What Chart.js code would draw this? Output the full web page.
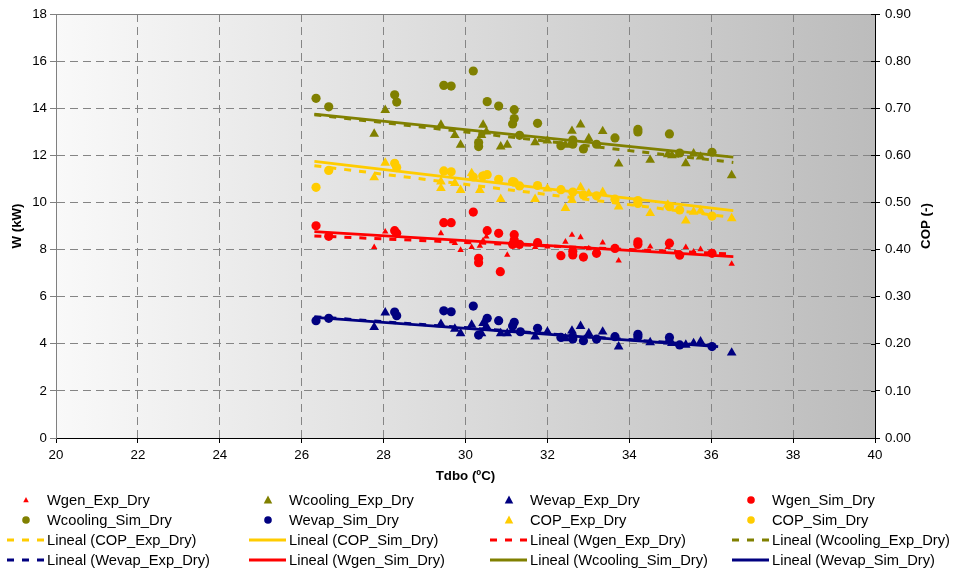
<!DOCTYPE html>
<html><head><meta charset="utf-8">
<script src="https://cdn.jsdelivr.net/npm/chart.js@4/dist/chart.umd.min.js"></script>
<style>
html,body{margin:0;padding:0;background:#fff;}
#wrap{position:relative;width:954px;height:572px;font-family:"Liberation Sans",Arial,sans-serif;overflow:hidden;}
#c{position:absolute;left:0;top:0;}
#legend{position:absolute;left:0;top:0;width:954px;height:572px;pointer-events:none;}
.lt{position:absolute;font-size:14.7px;line-height:20px;color:#000;white-space:nowrap;}
</style></head><body>
<div id="wrap"><canvas id="c" width="954" height="572"></canvas><div id="legend"></div></div>
<script>
// ---- data ----
const wgenExp = [[27.77,8.10],[28.04,8.76],[29.40,8.69],[29.74,8.27],[29.88,7.98],[30.15,8.10],[30.35,8.15],[30.43,8.39],[30.51,8.55],[31.02,7.77],[31.70,8.10],[32.00,8.12],[32.44,8.33],[32.60,8.62],[32.81,8.52],[33.01,8.05],[33.35,8.29],[33.74,7.53],[34.51,8.12],[34.94,8.10],[35.38,8.10],[35.57,7.91],[35.74,8.01],[36.50,7.39]];
const wcoolExp = [[27.77,12.91],[28.04,13.92],[29.40,13.29],[29.74,12.85],[29.88,12.44],[30.39,12.86],[30.43,13.29],[30.51,13.00],[30.86,12.37],[31.02,12.44],[31.70,12.55],[32.00,12.62],[32.44,12.44],[32.60,13.03],[32.81,13.30],[33.01,12.72],[33.35,13.02],[33.74,11.64],[34.51,11.80],[34.94,12.04],[35.04,12.00],[35.38,11.66],[35.57,12.07],[35.74,11.94],[36.50,11.15]];
const wevapExp = [[27.77,4.70],[28.04,5.32],[29.40,4.84],[29.74,4.63],[29.88,4.44],[30.15,4.80],[30.39,4.44],[30.43,4.87],[30.51,4.75],[30.86,4.44],[31.02,4.44],[31.70,4.30],[32.00,4.51],[32.44,4.23],[32.60,4.55],[32.81,4.75],[33.01,4.44],[33.35,4.51],[33.74,3.88],[34.51,4.06],[34.94,4.09],[35.04,4.02],[35.38,3.95],[35.57,4.02],[35.74,4.09],[36.50,3.62]];
const copExp = [[27.77,0.553],[28.04,0.584],[29.40,0.544],[29.40,0.530],[29.74,0.541],[29.88,0.526],[30.15,0.562],[30.35,0.526],[30.43,0.556],[30.86,0.507],[31.70,0.507],[32.00,0.529],[32.44,0.488],[32.60,0.505],[32.81,0.532],[33.01,0.519],[33.35,0.522],[33.74,0.491],[34.51,0.477],[34.94,0.495],[35.38,0.461],[35.57,0.480],[35.74,0.482],[36.50,0.466]];
const wgenSim = [[26.35,9.01],[26.66,8.56],[28.27,8.80],[28.32,8.69],[29.47,9.14],[29.65,9.14],[30.19,9.59],[30.32,7.63],[30.32,7.44],[30.53,8.80],[30.81,8.69],[30.85,7.06],[31.19,8.63],[31.15,8.22],[31.19,8.41],[31.32,8.22],[31.76,8.29],[32.33,7.74],[32.62,7.93],[32.62,7.77],[32.88,7.68],[33.20,7.84],[33.65,8.05],[34.21,8.33],[34.21,8.22],[34.98,8.27],[35.23,7.76],[36.02,7.84]];
const wcoolSim = [[26.35,14.42],[26.66,14.06],[28.27,14.57],[28.32,14.26],[29.47,14.97],[29.65,14.94],[30.19,15.58],[30.32,12.54],[30.32,12.37],[30.53,14.28],[30.81,14.09],[31.19,13.94],[31.19,13.56],[31.15,13.33],[31.32,12.85],[31.76,13.36],[32.33,12.41],[32.62,12.65],[32.62,12.47],[32.88,12.27],[33.20,12.47],[33.65,12.74],[34.21,13.10],[34.21,12.99],[34.98,12.91],[35.23,12.10],[36.02,12.13]];
const wevapSim = [[26.35,4.98],[26.66,5.08],[28.27,5.35],[28.32,5.19],[29.47,5.40],[29.65,5.36],[30.19,5.60],[30.32,4.37],[30.53,5.08],[30.81,4.98],[31.15,4.75],[31.19,4.91],[31.34,4.51],[31.76,4.66],[32.33,4.27],[32.62,4.30],[32.62,4.20],[32.88,4.13],[33.20,4.20],[33.65,4.30],[34.21,4.40],[34.21,4.30],[34.98,4.27],[35.23,3.95],[36.02,3.88]];
const copSim = [[26.35,0.532],[26.66,0.568],[28.27,0.583],[28.32,0.574],[29.47,0.567],[29.65,0.565],[30.19,0.554],[30.42,0.556],[30.53,0.559],[30.81,0.549],[31.15,0.544],[31.19,0.543],[31.32,0.535],[31.76,0.536],[32.33,0.527],[32.62,0.522],[32.88,0.516],[33.20,0.514],[33.65,0.507],[34.21,0.504],[34.21,0.498],[34.98,0.491],[35.23,0.484],[36.02,0.471]];
// linear trend lines (Excel "Lineal"), end points
const trendCopExp   = [[26.31,0.578],[36.54,0.468]];
const trendCopSim   = [[26.31,0.587],[36.54,0.4825]];
const trendWgenExp  = [[26.31,8.58],[36.54,7.81]];
const trendWcoolExp = [[26.31,13.72],[36.54,11.70]];
const trendWevapExp = [[26.31,5.15],[36.17,3.90]];
const trendWgenSim  = [[26.31,8.76],[36.54,7.70]];
const trendWcoolSim = [[26.31,13.75],[36.54,11.92]];
const trendWevapSim = [[26.31,5.12],[36.17,3.88]];
// axes
const xRange = [20, 40, 2];
const wRange = [0, 18, 2];
const copRange = [0, 0.9, 0.1];
const xTitle = 'Tdbo (ºC)', wTitle = 'W (kW)', copTitle = 'COP (-)';

const RED='#FF0000', OLIVE='#808000', NAVY='#000080', YEL='#FFCC00';
const pts = a => a.map(p => ({x:p[0], y:p[1]}));

function marker(label, data, color, style, r, axis){
  return {label, data:pts(data), yAxisID:axis, showLine:false, pointStyle:style, pointRadius:r, pointHoverRadius:r,
    backgroundColor:color, borderColor:color, pointBorderWidth:0, borderWidth:0, order:2, _leg:style==='triangle'?(r<4?'triS':'tri'):'circ'};
}
function trend(label, data, color, dashed, axis){
  return {label, data:pts(data), yAxisID:axis, showLine:true, pointRadius:0, pointHoverRadius:0, borderColor:color,
    backgroundColor:color, borderWidth:dashed?3:2.8, borderDash:dashed?[7,8]:[], fill:false, order:1, _leg:dashed?'dash':'line'};
}

const datasets = [
  marker('Wgen_Exp_Dry', wgenExp, RED, 'triangle', 3.7, 'y'),
  marker('Wcooling_Exp_Dry', wcoolExp, OLIVE, 'triangle', 5.6, 'y'),
  marker('Wevap_Exp_Dry', wevapExp, NAVY, 'triangle', 5.6, 'y'),
  marker('Wgen_Sim_Dry', wgenSim, RED, 'circle', 4.6, 'y'),
  marker('Wcooling_Sim_Dry', wcoolSim, OLIVE, 'circle', 4.6, 'y'),
  marker('Wevap_Sim_Dry', wevapSim, NAVY, 'circle', 4.6, 'y'),
  marker('COP_Exp_Dry', copExp, YEL, 'triangle', 5.6, 'y1'),
  marker('COP_Sim_Dry', copSim, YEL, 'circle', 4.6, 'y1'),
  trend('Lineal (COP_Exp_Dry)', trendCopExp, YEL, true, 'y1'),
  trend('Lineal (COP_Sim_Dry)', trendCopSim, YEL, false, 'y1'),
  trend('Lineal (Wgen_Exp_Dry)', trendWgenExp, RED, true, 'y'),
  trend('Lineal (Wcooling_Exp_Dry)', trendWcoolExp, OLIVE, true, 'y'),
  trend('Lineal (Wevap_Exp_Dry)', trendWevapExp, NAVY, true, 'y'),
  trend('Lineal (Wgen_Sim_Dry)', trendWgenSim, RED, false, 'y'),
  trend('Lineal (Wcooling_Sim_Dry)', trendWcoolSim, OLIVE, false, 'y'),
  trend('Lineal (Wevap_Sim_Dry)', trendWevapSim, NAVY, false, 'y'),
];

const FONT = '"Liberation Sans", Arial, sans-serif';
Chart.defaults.font.family = FONT;
Chart.defaults.color = '#000';

const plotDeco = {
  id:'plotDeco',
  beforeDraw(chart){
    const {ctx, chartArea:{left,top,right,bottom}} = chart;
    const g = ctx.createLinearGradient(left,0,right,0);
    g.addColorStop(0,'#f9f9f9'); g.addColorStop(1,'#bcbcbc');
    ctx.save(); ctx.fillStyle = g; ctx.fillRect(left,top,right-left,bottom-top); ctx.restore();
  },
  beforeDatasetsDraw(chart){
    const {ctx, chartArea:{left,top,right}} = chart;
    ctx.save(); ctx.strokeStyle='#808080'; ctx.lineWidth=1;
    ctx.beginPath(); ctx.moveTo(left, Math.round(top)+0.5); ctx.lineTo(right, Math.round(top)+0.5); ctx.stroke();
    // right-axis tick marks cross the axis line: inner part
    const y1 = chart.scales.y1;
    ctx.strokeStyle='#000';
    y1.ticks.forEach(t=>{
      const py = Math.round(y1.getPixelForValue(t.value))+0.5;
      ctx.beginPath(); ctx.moveTo(right-4, py); ctx.lineTo(right, py); ctx.stroke();
    });
    ctx.restore();
  },
  afterDraw(chart){
    const {ctx, chartArea:{top,bottom}} = chart;
    ctx.save();
    ctx.translate(926, (top+bottom)/2);
    ctx.rotate(-Math.PI/2);
    ctx.font = 'bold 13.3px ' + FONT;
    ctx.fillStyle = '#000'; ctx.textAlign='center'; ctx.textBaseline='middle';
    ctx.fillText(copTitle, 0, 0);
    ctx.restore();
  }
};

new Chart(document.getElementById('c'), {
  type:'scatter',
  data:{datasets},
  options:{
    responsive:false, animation:false, devicePixelRatio:1,
    layout:{padding:{top:14, left:0, right:0, bottom:82}},
    plugins:{legend:{display:false}, tooltip:{enabled:false}},
    scales:{
      x:{type:'linear', min:xRange[0], max:xRange[1],
        ticks:{stepSize:xRange[2], font:{size:13.3}, color:'#000', padding:4, maxRotation:0},
        grid:{color:'#858585', lineWidth:1, tickLength:5, tickColor:'#000', tickBorderDash:[]},
        border:{color:'#000', width:1, dash:[8,5]},
        title:{display:true, text:xTitle, font:{size:13.3, weight:'bold'}, padding:{top:0,bottom:6}},
        afterFit(s){ s.height = 52; }
      },
      y:{type:'linear', position:'left', min:wRange[0], max:wRange[1],
        ticks:{stepSize:wRange[2], font:{size:13.3}, color:'#000', padding:3},
        grid:{color:'#858585', lineWidth:1, tickLength:6, tickColor:'#808080', tickBorderDash:[]},
        border:{color:'#808080', width:1, dash:[8,5]},
        title:{display:true, text:wTitle, font:{size:13.3, weight:'bold'}, padding:{top:9,bottom:0}},
        afterFit(s){ s.width = 56; }
      },
      y1:{type:'linear', position:'right', min:copRange[0], max:copRange[1],
        ticks:{stepSize:copRange[2], font:{size:13.3}, color:'#000', padding:5, callback:v=>Number(v).toFixed(2)},
        grid:{drawOnChartArea:false, tickLength:5, tickColor:'#000', tickBorderDash:[]},
        border:{color:'#000', width:1},
        afterFit(s){ s.width = 79; }
      }
    }
  },
  plugins:[plotDeco]
});

// ---- HTML legend (4 columns, like the original) ----
const colX = [47, 289, 530, 772];
const rowY = [500, 520, 540, 560];
const leg = document.getElementById('legend');
const NS = 'http://www.w3.org/2000/svg';
const svg = document.createElementNS(NS,'svg');
svg.setAttribute('width','954'); svg.setAttribute('height','572');
svg.style.position='absolute'; svg.style.left='0'; svg.style.top='0';
leg.appendChild(svg);
datasets.forEach((d,i)=>{
  const col = i % 4, row = Math.floor(i/4);
  const tx = colX[col], cy = rowY[row];
  const color = d.borderColor;
  const cx = tx - 21;
  let el;
  if (d._leg==='line' || d._leg==='dash'){
    el = document.createElementNS(NS,'line');
    el.setAttribute('x1', tx-40); el.setAttribute('x2', tx-3);
    el.setAttribute('y1', cy); el.setAttribute('y2', cy);
    el.setAttribute('stroke', color); el.setAttribute('stroke-width', d._leg==='dash'?3:2.8);
    if (d._leg==='dash') el.setAttribute('stroke-dasharray','7 8');
  } else if (d._leg==='circ'){
    el = document.createElementNS(NS,'circle');
    el.setAttribute('cx', cx); el.setAttribute('cy', cy); el.setAttribute('r', 3.8); el.setAttribute('fill', color);
  } else {
    const s = d._leg==='triS' ? 2.9 : 4.5;
    el = document.createElementNS(NS,'polygon');
    el.setAttribute('points', `${cx},${cy-s} ${cx+s*0.95},${cy+s*0.75} ${cx-s*0.95},${cy+s*0.75}`);
    el.setAttribute('fill', color);
  }
  svg.appendChild(el);
  const t = document.createElement('div');
  t.className='lt'; t.textContent = d.label;
  t.style.left = tx+'px'; t.style.top = (cy-10)+'px';
  leg.appendChild(t);
});
</script>
</body></html>
